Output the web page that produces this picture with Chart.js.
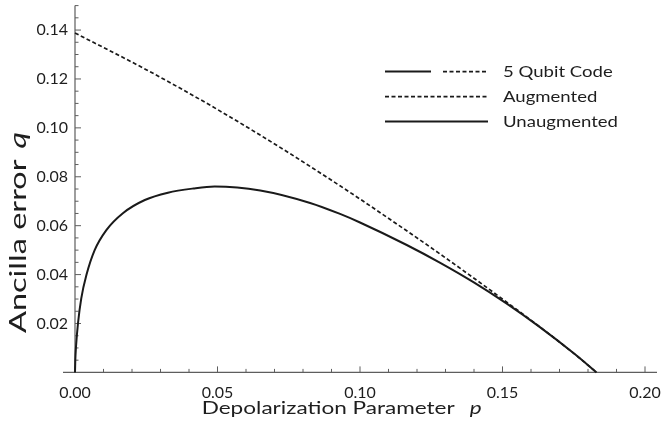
<!DOCTYPE html>
<html>
<head>
<meta charset="utf-8">
<script src="https://cdn.jsdelivr.net/npm/chart.js@4"></script>
<style>
  html, body { margin: 0; padding: 0; background: #fff; }
  #wrap { width: 661px; height: 427px; }
</style>
</head>
<body>
<div id="wrap"><canvas id="c" width="661" height="427"></canvas></div>
<script>
// Depolarization parameter p versus ancilla error threshold q
const pAugmented   = [0, 0.025, 0.05, 0.075, 0.093, 0.1, 0.1164, 0.128, 0.14, 0.1515, 0.163, 0.175, 0.183];
const qAugmented   = [0.1388, 0.1238, 0.1075, 0.0898, 0.0763, 0.0709, 0.0579, 0.0485, 0.0385, 0.0287, 0.0187, 0.0078, 0];

const pUnaugmented = [0, 0.0001, 0.00035, 0.00105, 0.0022, 0.004, 0.0069, 0.011, 0.0168, 0.0245, 0.0326,
                      0.0415, 0.049, 0.065, 0.0825, 0.093, 0.1, 0.1164, 0.128, 0.1398, 0.1515, 0.163, 0.175, 0.183];
const qUnaugmented = [0, 0.0049, 0.0105, 0.0201, 0.0303, 0.0398, 0.0500, 0.0582, 0.0651, 0.0705, 0.0735,
                      0.0752, 0.0760, 0.0744, 0.0693, 0.0648, 0.0613, 0.0521, 0.0449, 0.0369, 0.0281, 0.0186, 0.0078, 0];

const seriesNames = ['Augmented', 'Unaugmented'];
const groupName = '5 Qubit Code';

const xTickValues = [0, 0.05, 0.10, 0.15, 0.20];
const yTickValues = [0.02, 0.04, 0.06, 0.08, 0.10, 0.12, 0.14];
const xMinorStep = 0.01;
const yMinorStep = 0.005;

const xTitle = ['Depolarization Parameter', 'p'];
const yTitle = ['Ancilla error', 'q'];

const ink = '#1a1a1a';
const textInk = '#1e1e1e';
const axisInk = '#5e5e5e';
const family = 'Lato, "Open Sans", sans-serif';

const toPoints = (xs, ys) => xs.map((v, i) => ({ x: v, y: ys[i] }));

// Draws a label made of an upright part and an italic symbol, stretched to span a given length.
function drawComposite(ctx, parts, size, gap, span) {
  ctx.font = `${size}px ${family}`;
  const w1 = ctx.measureText(parts[0]).width;
  ctx.font = `italic ${size}px ${family}`;
  const w2 = ctx.measureText(parts[1]).width;
  const k = span / (w1 + gap + w2);
  ctx.scale(k, 1);
  ctx.font = `${size}px ${family}`;
  ctx.fillText(parts[0], 0, 0);
  ctx.font = `italic ${size}px ${family}`;
  ctx.fillText(parts[1], w1 + gap, 0);
}

const axesFrame = {
  id: 'axesFrame',
  beforeDatasetsDraw(chart) {
    const { ctx, chartArea: a, scales: { x, y } } = chart;
    const x0 = x.getPixelForValue(0);
    const y0 = y.getPixelForValue(0);
    ctx.save();
    ctx.strokeStyle = axisInk;
    ctx.lineWidth = 1.2;
    ctx.beginPath();
    ctx.moveTo(a.left - 12, y0); ctx.lineTo(a.right + 12, y0);
    ctx.moveTo(x0, a.top); ctx.lineTo(x0, y0);
    ctx.stroke();

    ctx.lineWidth = 1;
    ctx.beginPath();
    const nx = Math.round(x.max / xMinorStep);
    for (let i = 0; i <= nx; i++) {
      const v = i * xMinorStep;
      const major = xTickValues.some(t => Math.abs(t - v) < 1e-9);
      const px = x.getPixelForValue(v);
      ctx.moveTo(px, y0); ctx.lineTo(px, y0 - (major ? 6 : 3.5));
    }
    const ny = Math.round(y.max / yMinorStep);
    for (let i = 1; i <= ny; i++) {
      const v = i * yMinorStep;
      const major = yTickValues.some(t => Math.abs(t - v) < 1e-9);
      const py = y.getPixelForValue(v);
      ctx.moveTo(x0, py); ctx.lineTo(x0 + (major ? 6 : 3.5), py);
    }
    ctx.stroke();
    ctx.restore();
  },
  afterDraw(chart) {
    const { ctx, chartArea: a } = chart;
    const ds = chart.data.datasets;
    ctx.save();
    ctx.fillStyle = textInk;
    ctx.textBaseline = 'alphabetic';
    ctx.textAlign = 'left';

    // axis titles
    ctx.save();
    ctx.translate(a.left + 126.7, a.bottom + 41.6);
    drawComposite(ctx, xTitle, 18, 12, 280);
    ctx.restore();

    ctx.save();
    ctx.translate(26, a.top + 327.4);
    ctx.rotate(-Math.PI / 2);
    drawComposite(ctx, yTitle, 24, 8, 201);
    ctx.restore();

    // legend
    const lx0 = a.left + 310, lx1 = a.left + 413, tx = a.left + 428;
    const rowY = [a.top + 66, a.top + 91, a.top + 116];
    const stroke = (d, from, to, yy) => {
      ctx.save();
      ctx.strokeStyle = d.borderColor;
      ctx.lineWidth = d.borderWidth;
      ctx.setLineDash(d.borderDash || []);
      ctx.beginPath(); ctx.moveTo(from, yy); ctx.lineTo(to, yy); ctx.stroke();
      ctx.restore();
    };
    stroke(ds[1], lx0, lx0 + 46, rowY[0]);
    stroke(ds[0], lx0 + 58, lx1, rowY[0]);
    stroke(ds[0], lx0, lx1, rowY[1]);
    stroke(ds[1], lx0, lx1, rowY[2]);

    ctx.font = `16px ${family}`;
    const k = 115 / ctx.measureText(seriesNames[1]).width;
    const labels = [groupName, seriesNames[0], seriesNames[1]];
    labels.forEach((t, i) => {
      ctx.save();
      ctx.translate(tx, rowY[i] + 5.7);
      ctx.scale(k, 1);
      ctx.fillText(t, 0, 0);
      ctx.restore();
    });
    ctx.restore();
  }
};

new Chart(document.getElementById('c'), {
  type: 'line',
  data: {
    datasets: [
      {
        label: seriesNames[0],
        data: toPoints(pAugmented, qAugmented),
        borderColor: ink,
        borderWidth: 1.7,
        borderDash: [4, 2.5],
        pointRadius: 0,
        cubicInterpolationMode: 'monotone',
        clip: false
      },
      {
        label: seriesNames[1],
        data: toPoints(pUnaugmented, qUnaugmented),
        borderColor: ink,
        borderWidth: 2,
        pointRadius: 0,
        cubicInterpolationMode: 'monotone',
        clip: false
      }
    ]
  },
  options: {
    responsive: false,
    devicePixelRatio: 1,
    animation: false,
    layout: { padding: { top: 5.6, right: 16, left: 0, bottom: 0 } },
    plugins: { legend: { display: false }, tooltip: { enabled: false } },
    scales: {
      x: {
        type: 'linear',
        min: 0,
        max: 0.2,
        afterBuildTicks: s => { s.ticks = xTickValues.map(v => ({ value: v })); },
        afterFit: s => { s.height = 54.6; s.paddingLeft = 0; s.paddingRight = 0; },
        grid: { display: false, drawTicks: false },
        border: { display: false },
        ticks: {
          autoSkip: false,
          maxRotation: 0,
          padding: 11,
          color: textInk,
          font: { family, size: 16 },
          callback: v => v.toFixed(2)
        }
      },
      y: {
        type: 'linear',
        min: 0,
        max: 0.15,
        afterBuildTicks: s => { s.ticks = yTickValues.map(v => ({ value: v })); },
        afterFit: s => { s.width = 75; s.paddingTop = 0; s.paddingBottom = 0; },
        grid: { display: false, drawTicks: false },
        border: { display: false },
        ticks: {
          autoSkip: false,
          padding: 7,
          color: textInk,
          font: { family, size: 16 },
          callback: v => v.toFixed(2)
        }
      }
    }
  },
  plugins: [axesFrame]
});
</script>
</body>
</html>
